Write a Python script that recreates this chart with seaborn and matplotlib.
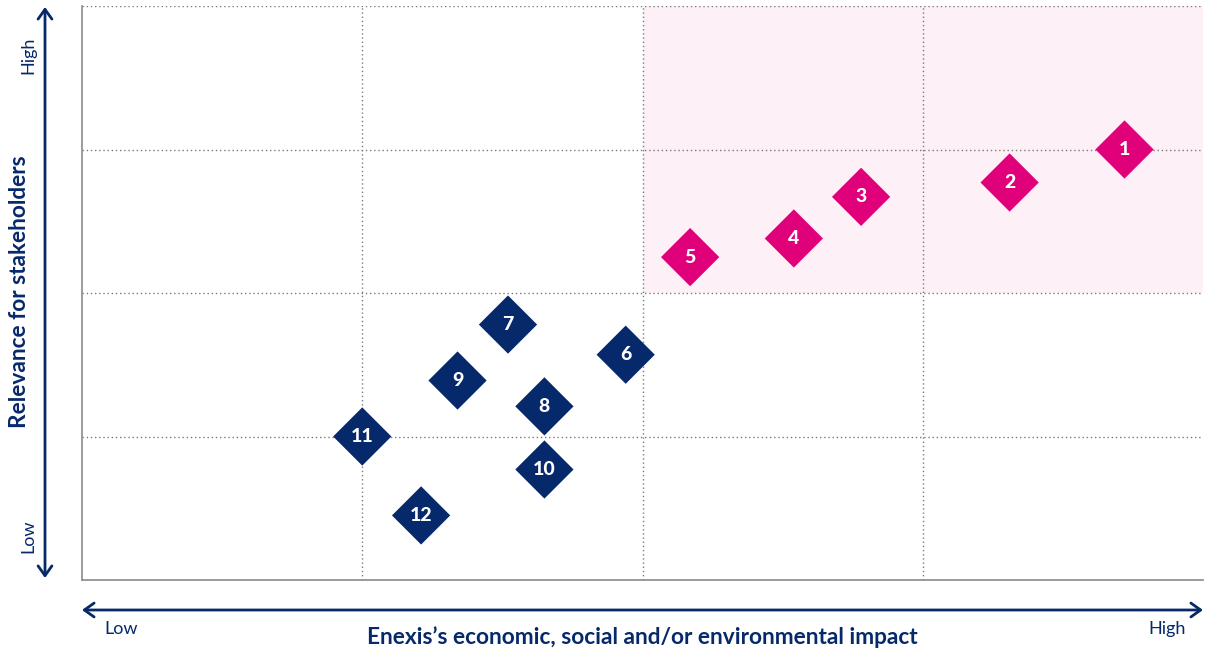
import matplotlib
matplotlib.use("Agg")
import matplotlib.pyplot as plt
import seaborn as sns
import pandas as pd

# Data (impact, relevance) on a 0-4 scale
labels = ["1", "2", "3", "4", "5", "6", "7", "8", "9", "10", "11", "12"]
impact = [3.72, 3.31, 2.78, 2.54, 2.17, 1.94, 1.52, 1.65, 1.34, 1.65, 1.00, 1.21]
relevance = [3.00, 2.77, 2.67, 2.38, 2.25, 1.57, 1.78, 1.21, 1.39, 0.77, 1.00, 0.45]
group = ["material"] * 5 + ["other"] * 7

x_title = "Enexis\u2019s economic, social and/or environmental impact"
y_title = "Relevance for stakeholders"
low_label, high_label = "Low", "High"

NAVY = "#06296b"
PINK = "#e0007a"
PINK_BG = "#fdf0f6"
GRID = "#7a7a7a"

df = pd.DataFrame({"label": labels, "impact": impact, "relevance": relevance, "group": group})

sns.set_theme(style="white")
plt.rcParams["font.family"] = ["Lato", "DejaVu Sans"]

fig = plt.figure(figsize=(12.05, 6.5), dpi=100)
ax = fig.add_axes([82 / 1205, 1 - 580 / 650, (1203 - 82) / 1205, (580 - 6) / 650])

ax.set_xlim(0, 4)
ax.set_ylim(0, 4)

# highlighted quadrant
ax.axvspan(2, 4, ymin=0.5, ymax=1, color=PINK_BG, zorder=0, lw=0)

# dotted grid
for v in [1, 2, 3]:
    ax.axvline(v, color=GRID, ls=(0, (1, 2)), lw=1.0, zorder=1)
for v in [1, 2, 3, 4]:
    ax.axhline(v, color=GRID, ls=(0, (1, 2)), lw=1.0, zorder=1)

sns.scatterplot(data=df, x="impact", y="relevance", hue="group",
                palette={"material": PINK, "other": NAVY}, marker="D",
                s=880, linewidth=0, legend=False, ax=ax, zorder=3)

for _, r in df.iterrows():
    ax.text(r["impact"], r["relevance"], r["label"], color="white",
            fontsize=14, fontweight="black", ha="center", va="center", zorder=4)

for s in ["top", "right"]:
    ax.spines[s].set_visible(False)
for s in ["left", "bottom"]:
    ax.spines[s].set_color("#8a8a8a")
    ax.spines[s].set_linewidth(1.2)
ax.set_xticks([])
ax.set_yticks([])
ax.set_xlabel("")
ax.set_ylabel("")

W, H = 1205, 650
def fx(px):
    return px / W
def fy(py):
    return 1 - py / H

fig.add_artist(matplotlib.patches.FancyArrowPatch(
    (fx(45), fy(578)), (fx(45), fy(7)), transform=fig.transFigure,
    arrowstyle="<->,head_length=7,head_width=5", color=NAVY, lw=2,
    mutation_scale=1, shrinkA=0, shrinkB=0))
fig.add_artist(matplotlib.patches.FancyArrowPatch(
    (fx(82), fy(610)), (fx(1203), fy(610)), transform=fig.transFigure,
    arrowstyle="<->,head_length=7,head_width=5", color=NAVY, lw=2,
    mutation_scale=1, shrinkA=0, shrinkB=0))

fig.text(fx(28), fy(55), high_label, rotation=90, ha="center", va="center",
         color=NAVY, fontsize=13)
fig.text(fx(28), fy(536), low_label, rotation=90, ha="center", va="center",
         color=NAVY, fontsize=13)
fig.text(fx(121), fy(629), low_label, ha="center", va="center", color=NAVY, fontsize=13)
fig.text(fx(1167), fy(629), high_label, ha="center", va="center", color=NAVY, fontsize=13)

fig.text(fx(20), fy(292), y_title, rotation=90, ha="center", va="center",
         color=NAVY, fontsize=16.3, fontweight="bold")
fig.text(fx(642), fy(637), x_title, ha="center", va="center",
         color=NAVY, fontsize=16.3, fontweight="bold")

fig.savefig("out.png", dpi=100)
